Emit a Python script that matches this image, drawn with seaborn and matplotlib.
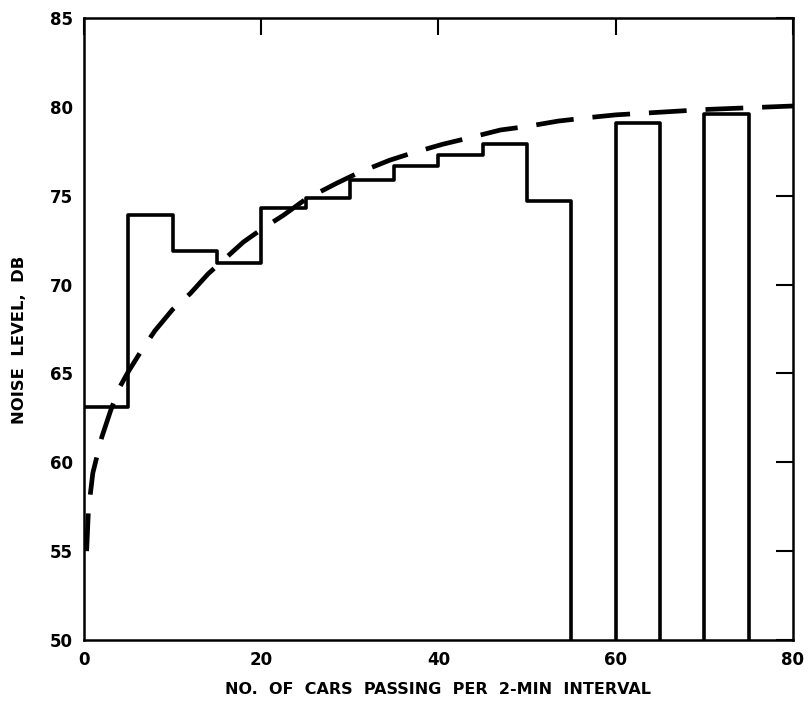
import numpy as np
import pandas as pd
import matplotlib
matplotlib.use("Agg")
import matplotlib.pyplot as plt
import seaborn as sns

# Average noise level for each 5-car traffic class (classes with no data omitted)
class_start = [0, 5, 10, 15, 20, 25, 30, 35, 40, 45, 50, 60, 70]
noise_db = [63.1, 73.9, 71.9, 71.2, 74.3, 74.9, 75.9, 76.7, 77.3, 77.9, 74.7, 79.1, 79.6]
class_edges = [0, 5, 10, 15, 20, 25, 30, 35, 40, 45, 50, 55, 60, 65, 70, 75, 80]

# Smooth trend curve through the data
trend_cars = [0.3, 0.5, 1.0, 2.0, 3.0, 4.0, 5.0, 6.5, 8.0, 10.0, 12.0, 14.0, 16.0,
              18.0, 20.0, 22.5, 25.0, 28.5, 31.0, 34.5, 37.0, 40.5, 43.0, 47.0,
              50.0, 53.5, 57.0, 60.0, 65.0, 70.0, 75.0, 80.0]
trend_db = [55.0, 57.3, 59.4, 61.4, 62.9, 64.2, 65.1, 66.3, 67.4, 68.6, 69.5, 70.6, 71.5,
            72.4, 73.1, 73.9, 74.8, 75.7, 76.3, 77.0, 77.4, 77.9, 78.2, 78.7,
            78.9, 79.2, 79.4, 79.55, 79.7, 79.85, 79.95, 80.05]

x_ticks = [0, 20, 40, 60, 80]
y_ticks = [50, 55, 60, 65, 70, 75, 80, 85]

sns.set_theme(style="white")
plt.rcParams["font.family"] = ["DejaVu Sans"]
plt.rcParams["text.color"] = "black"
plt.rcParams["axes.labelcolor"] = "black"
plt.rcParams["xtick.color"] = "black"
plt.rcParams["ytick.color"] = "black"

fig = plt.figure(figsize=(8.09, 7.04), dpi=100)
ax = fig.add_axes([0.1038, 0.0909, 0.8764, 0.8835])

hist_df = pd.DataFrame({"cars": np.array(class_start) + 2.5, "db": noise_db})
sns.histplot(data=hist_df, x="cars", weights="db", bins=class_edges,
             element="step", fill=False, color="black", linewidth=2.6, ax=ax)

trend_df = pd.DataFrame({"cars": trend_cars, "db": trend_db})
sns.lineplot(data=trend_df, x="cars", y="db", color="black", linewidth=3.4,
             ax=ax, zorder=3)
trend_line = ax.lines[-1]
trend_line.set_linestyle((0, (8.0, 4.0)))
trend_line.set_dash_capstyle("butt")

ax.set_xlim(0, 80)
ax.set_ylim(50, 85)
ax.set_xticks(x_ticks)
ax.set_yticks(y_ticks)
ax.tick_params(axis="both", direction="in", length=12, width=1.5, color="black",
               labelcolor="black", top=True, right=True, labelsize=12, pad=8)
for lab in ax.get_xticklabels() + ax.get_yticklabels():
    lab.set_fontweight("bold")

for side in ["left", "right", "top", "bottom"]:
    ax.spines[side].set_color("black")
    ax.spines[side].set_linewidth(1.8)

ax.set_xlabel("NO.  OF  CARS  PASSING  PER  2-MIN  INTERVAL", fontsize=11.5,
              fontweight="bold", labelpad=9)
ax.set_ylabel("NOISE  LEVEL,  DB", fontsize=11.8, fontweight="bold")
ax.yaxis.set_label_coords(-0.080, 0.482)

fig.savefig("out.png", dpi=100, facecolor="white")
